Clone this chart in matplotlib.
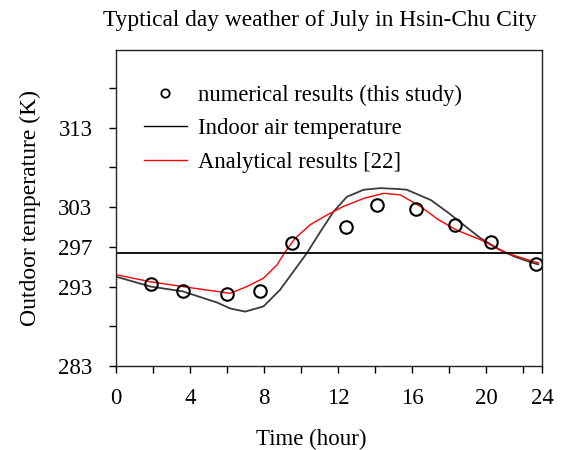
import numpy as np
import matplotlib
matplotlib.use('Agg')
import matplotlib.pyplot as plt
from matplotlib.lines import Line2D

plt.rcParams['font.family'] = ['Liberation Serif', 'DejaVu Serif']

# ── data ──────────────────────────────────────────────────────────────────────
num_t = [1.87, 3.6, 6.0, 7.8, 9.5, 12.4, 14.1, 16.2, 18.3, 20.25, 22.7]
num_T = [293.3, 292.45, 292.1, 292.5, 298.5, 300.5, 303.3, 302.75, 300.7, 298.6, 295.9]

indoor_t = [0, 1.87, 3.6, 5.45, 6.16, 6.97, 7.96, 8.86, 9.58, 10.3, 11.03, 11.75,
            12.46, 13.37, 14.27, 15.17, 15.7, 17.0, 17.97, 18.86, 19.68, 20.75,
            21.5, 22.4, 22.8]
indoor_T = [294.25, 293.0, 292.4, 291.0, 290.25, 289.85, 290.5, 292.6, 294.9, 297.2,
            299.9, 302.45, 304.3, 305.2, 305.4, 305.3, 305.2, 303.9, 302.25, 300.6,
            299.1, 297.6, 296.8, 296.05, 295.8]

anal_t = [0, 1.87, 3.6, 6.16, 7.06, 7.96, 8.68, 9.14, 9.68, 10.49, 11.38, 12.28,
          13.37, 14.45, 15.35, 16.43, 17.42, 18.41, 19.68, 21.1, 22.55, 22.8]
anal_T = [294.5, 293.6, 293.0, 292.15, 293.0, 294.05, 295.7, 297.4, 299.1, 300.8,
          302.0, 303.1, 304.1, 304.75, 304.55, 303.1, 301.4, 300.1, 298.9, 297.2,
          296.15, 296.0]

ref_T = 297.2

x_ticks = [0, 4, 8, 12, 16, 20, 23]
x_labels = ['0', '4', '8', '12', '16', '20', '24']
x_minor = [2, 6, 10, 14, 18, 22]
y_ticks = [283, 288, 293, 298, 303, 308, 313, 318]
y_labels = ['283', '', '293', '297', '303', '', '313', '']
# ─────────────────────────────────────────────────────────────────────────────

fig = plt.figure(figsize=(5.69, 4.5), dpi=100)
ax = fig.add_axes([0.2039, 0.1867, 0.7486, 0.7022])

ax.plot(indoor_t, indoor_T, color='#3a3a3a', lw=1.3)
ax.plot(anal_t, anal_T, color='red', lw=1.0)
ax.plot(num_t, num_T, 'o', ms=9, mfc='none', mec='black', mew=1.5)
ax.axhline(ref_T, color='black', lw=1.3)

ax.set_xlim(0, 23)
ax.set_ylim(283, 322.8)
ax.set_xticks(x_ticks)
ax.set_xticklabels(x_labels)
ax.set_xticks(x_minor, minor=True)
ax.set_yticks(y_ticks)
ax.set_yticklabels(y_labels)
ax.tick_params(axis='both', which='both', direction='out', length=5, width=1,
               labelsize=16.5, top=False, right=False)
ax.tick_params(axis='x', pad=11)
ax.tick_params(axis='y', pad=12)
for sp in ax.spines.values():
    sp.set_linewidth(1.0)
    sp.set_color('#222222')

ax.set_xlabel('Time (hour)', fontsize=16.5)
ax.xaxis.set_label_coords(0.458, -0.20)
ax.set_ylabel('Outdoor temperature (K)', fontsize=17)
ax.yaxis.set_label_coords(-0.175, 0.5)
ax.set_title('Typtical day weather of July in Hsin-Chu City', fontsize=16.8,
             x=0.479, pad=17)

handles = [
    Line2D([], [], ls='none', marker='o', ms=6, mfc='none', mec='black', mew=1.3),
    Line2D([], [], color='black', lw=1.0),
    Line2D([], [], color='red', lw=1.0),
]
labels = ['numerical results (this study)', 'Indoor air temperature',
          'Analytical results [22]']
ax.legend(handles, labels, loc='upper left', bbox_to_anchor=(0.065, 0.89),
          frameon=False, fontsize=16.3, handlelength=1.9, labelspacing=0.55,
          handletextpad=0.5, borderaxespad=0, borderpad=0)

fig.savefig('out.png', dpi=100)
